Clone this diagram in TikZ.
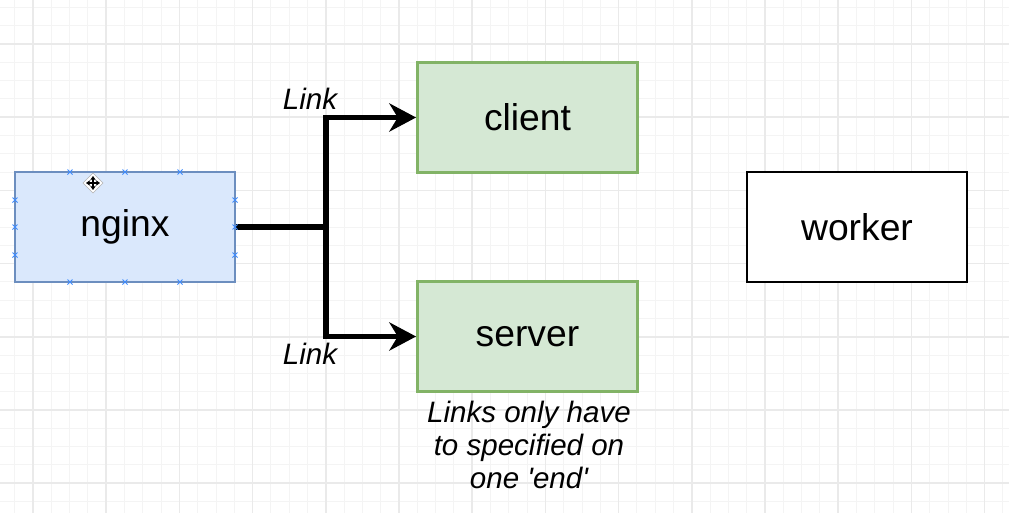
\documentclass[tikz,border=0pt]{standalone}
\usepackage{fontspec}
\setmainfont{Liberation Sans}
\usepackage{tikz}
\usepackage{xcolor}
\usetikzlibrary{arrows.meta}

\definecolor{blueFill}{HTML}{DAE8FC}
\definecolor{blueLine}{HTML}{6C8EBF}
\definecolor{greenFill}{HTML}{D5E8D4}
\definecolor{greenLine}{HTML}{82B366}
\definecolor{markBlue}{HTML}{3D8BFF}
\definecolor{gridMajor}{HTML}{EAEAEA}
\definecolor{gridMinor}{HTML}{F4F4F4}

\tikzset{
  box/.style={draw,line width=2pt,minimum width=5.5cm,minimum height=2.75cm,
    font=\fontsize{26.5}{30}\selectfont},
  link/.style={line width=3.6pt,-{Stealth[length=19pt,width=20pt,inset=6pt]}},
  linklabel/.style={font=\fontsize{21}{23.5}\selectfont\itshape},
  marker/.style={markBlue,line width=0.7pt}
}

\begin{document}
\begin{tikzpicture}[x=0.025cm,y=-0.025cm]
        \useasboundingbox (0,0) rectangle (1009,513);
        \fill[white] (0,0) rectangle (1009,513);

        % Draw the grid
        \foreach \i in {-1,...,55} {
          \draw[gridMinor,line width=0.6pt] ({33+18.3*\i},0) -- ({33+18.3*\i},513);
        }
        \foreach \i in {-2,...,27} {
          \draw[gridMinor,line width=0.6pt] (0,{44+18.3*\i}) -- (1009,{44+18.3*\i});
        }
        \foreach \i in {0,...,13} {
          \draw[gridMajor,line width=1.1pt] ({33+73.2*\i},0) -- ({33+73.2*\i},513);
        }
        \foreach \i in {0,...,6} {
          \draw[gridMajor,line width=1.1pt] (0,{44+73.2*\i}) -- (1009,{44+73.2*\i});
        }

        % Draw the containers
        \node[box,fill=blueFill,draw=blueLine] (nginx) at (125,227) {nginx};
        \node[box,fill=greenFill,draw=greenLine] (client) at (527.5,117.5) {client};
        \node[box,fill=greenFill,draw=greenLine] (server) at (527.5,336.5) {server};
        \node[box,fill=white,draw=black] (worker) at (857,227) {worker};

        % Draw the links
        \coordinate (split) at (326,227);
        \draw[line width=3.6pt] (nginx.east) -- (split);
        \draw[link] (split) |- (client.west);
        \draw[link] (split) |- (server.west);
        \node[linklabel] (linkup) at (310,99) {Link};
        \node[linklabel] (linkdown) at (310,354) {Link};

        % Draw the note
        \node[linklabel,align=center] (note) at (529,445)
          {Links only have\\to specified on\\one \textquotesingle end\textquotesingle};

        % Draw the selection markers
        \foreach \px in {70,125,180} {
          \foreach \py in {172,282} {
            \draw[marker] (\px-2.5,\py-2.5) -- (\px+2.5,\py+2.5) (\px-2.5,\py+2.5) -- (\px+2.5,\py-2.5);
          }
        }
        \foreach \px in {15,235} {
          \foreach \py in {200,227,255} {
            \draw[marker] (\px-2.5,\py-2.5) -- (\px+2.5,\py+2.5) (\px-2.5,\py+2.5) -- (\px+2.5,\py-2.5);
          }
        }

        % Draw the move cursor
        \fill[white,draw=gray!60,line width=0.4pt] (93,173) -- (103,183) -- (93,193) -- (83,183) -- cycle;
        \draw[line width=0.9pt,{Stealth[length=3pt,width=4pt]}-{Stealth[length=3pt,width=4pt]}] (86,183) -- (100,183);
        \draw[line width=0.9pt,{Stealth[length=3pt,width=4pt]}-{Stealth[length=3pt,width=4pt]}] (93,176) -- (93,190);
    \end{tikzpicture}
\end{document}
